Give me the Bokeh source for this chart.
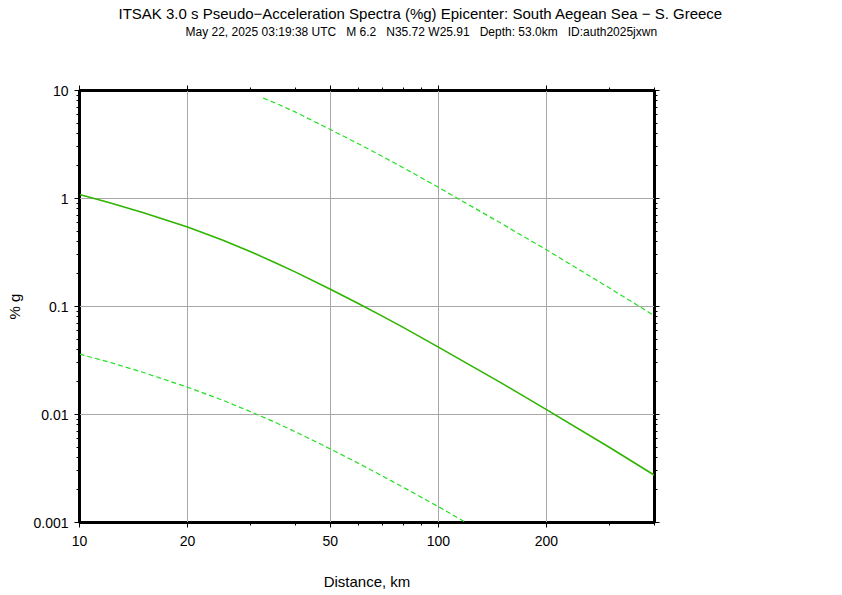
from bokeh.plotting import figure
from bokeh.models import LogAxis, FixedTicker, CustomJSTickFormatter, Title
from bokeh.embed import file_html
from bokeh.resources import INLINE

# ---- data ----
title_text = "ITSAK 3.0 s Pseudo\u2212Acceleration Spectra (%g) Epicenter: South Aegean Sea \u2212 S. Greece"
subtitle_text = ("May 22, 2025 03:19:38 UTC \u00a0 M 6.2 \u00a0 N35.72 W25.91 \u00a0 "
                 "Depth: 53.0km \u00a0 ID:auth2025jxwn")
x_label = "Distance, km"
y_label = "% g"

dist_median = [10, 12, 15, 20, 25, 30, 35, 40, 50, 60, 70, 80, 100, 150, 200, 300, 400]
median = [1.09, 0.925, 0.743, 0.5445, 0.412, 0.321, 0.256, 0.208, 0.1446, 0.106, 0.081,
          0.0637, 0.0421, 0.0195, 0.0111, 0.00495, 0.00274]

dist_upper = [32.5, 35, 40, 50, 60, 70, 80, 100, 150, 200, 300, 400]
upper = [8.5, 7.7, 6.3, 4.35, 3.2, 2.44, 1.92, 1.27, 0.585, 0.335, 0.148, 0.082]

dist_lower = [10, 12, 15, 20, 25, 30, 35, 40, 50, 60, 70, 80, 100, 118]
lower = [0.0362, 0.0308, 0.0246, 0.0179, 0.0136, 0.0106, 0.0085, 0.0069, 0.0048,
         0.00352, 0.00268, 0.00211, 0.0014, 0.00102]

x_major = [10, 20, 50, 100, 200]
x_minor = [30, 40, 60, 70, 80, 90, 300, 400]
y_major = [0.001, 0.01, 0.1, 1, 10]
y_minor = [m * d for d in [0.001, 0.01, 0.1, 1] for m in [2, 3, 4, 5, 6, 7, 8, 9]]

FONT = "Liberation Sans"
SOLID = "#2fb400"
DASHED = "#22e022"

W, H = 842, 595

p = figure(width=W, height=H, x_axis_type="log", y_axis_type="log",
           x_range=(10, 400), y_range=(0.001, 10),
           output_backend="svg", toolbar_location=None, title_location=None,
           min_border_left=79, min_border_right=W - 79 - 575,
           min_border_top=90, min_border_bottom=H - 90 - 432)

p.outline_line_color = "black"
p.outline_line_width = 3
p.background_fill_color = "white"
p.border_fill_color = "white"

fmt = CustomJSTickFormatter(code="return String(tick);")
blank = CustomJSTickFormatter(code="return '';")

def style_axis(ax, labels=True):
    ax.axis_line_color = "black"
    ax.axis_line_width = 1
    ax.major_tick_out = 5
    ax.major_tick_in = 0
    ax.minor_tick_out = 3
    ax.minor_tick_in = 0
    ax.major_tick_line_color = "black"
    ax.minor_tick_line_color = "black"
    ax.major_label_text_font = FONT
    ax.major_label_text_color = "black"
    if labels:
        ax.formatter = fmt
        ax.major_label_text_font_size = "14px"
        ax.major_label_standoff = 6
    else:
        ax.formatter = blank
        ax.major_label_text_font_size = "0px"
        ax.major_label_standoff = 0

p.xaxis.ticker = FixedTicker(ticks=x_major, minor_ticks=x_minor)
p.yaxis.ticker = FixedTicker(ticks=y_major, minor_ticks=y_minor)
for ax in p.xaxis:
    style_axis(ax)
    ax.major_label_standoff = 8
    ax.axis_label = x_label
    ax.axis_label_text_font = FONT
    ax.axis_label_text_font_size = "15px"
    ax.axis_label_text_font_style = "normal"
    ax.axis_label_text_color = "black"
    ax.axis_label_standoff = 24
for ax in p.yaxis:
    style_axis(ax)
    ax.axis_label = y_label
    ax.axis_label_text_font = FONT
    ax.axis_label_text_font_size = "15px"
    ax.axis_label_text_font_style = "normal"
    ax.axis_label_text_color = "black"
    ax.axis_label_standoff = 7

# visible top axis (ticks only)
top = LogAxis(ticker=FixedTicker(ticks=x_major, minor_ticks=x_minor))
style_axis(top, labels=False)
p.add_layout(top, "above")
# invisible spacer axis that lifts the title lines
spacer = LogAxis(ticker=FixedTicker(ticks=x_major, minor_ticks=[]))
style_axis(spacer, labels=False)
spacer.axis_line_color = None
spacer.major_tick_line_color = None
spacer.minor_tick_line_color = None
spacer.major_tick_out = 46
p.add_layout(spacer, "above")

right = LogAxis(ticker=FixedTicker(ticks=y_major, minor_ticks=y_minor))
style_axis(right, labels=False)
p.add_layout(right, "right")

p.add_layout(Title(text=subtitle_text, align="left", offset=106, text_font=FONT,
                   text_font_size="12px", text_font_style="normal",
                   text_color="black", standoff=2), "above")
p.add_layout(Title(text=title_text, align="left", offset=39, text_font=FONT,
                   text_font_size="15px", text_font_style="normal",
                   text_color="black", standoff=0), "above")

p.xgrid.ticker = FixedTicker(ticks=x_major)
p.ygrid.ticker = FixedTicker(ticks=y_major)
p.grid.grid_line_color = "#a8a8a8"
p.grid.grid_line_width = 1

p.line(dist_median, median, line_color=SOLID, line_width=1.6)
p.line(dist_upper, upper, line_color=DASHED, line_width=1.2, line_dash="5 3")
p.line(dist_lower, lower, line_color=DASHED, line_width=1.2, line_dash="5 3")

open("out.html", "w").write(file_html(p, INLINE))
